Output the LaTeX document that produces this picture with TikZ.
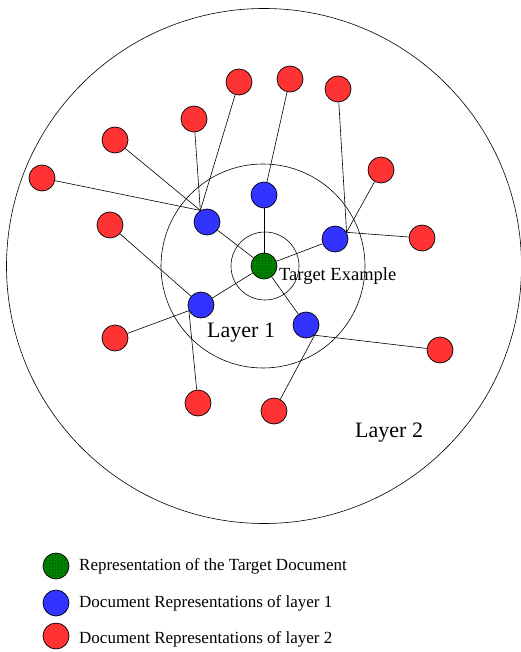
\documentclass[tikz,border=0pt]{standalone}
\usepackage{fontspec}
\setmainfont{Liberation Serif}
\usetikzlibrary{patterns}
\definecolor{bluen}{RGB}{51,51,255}
\definecolor{redn}{RGB}{255,51,51}
\definecolor{greenn}{RGB}{0,135,0}
\begin{document}
\begin{tikzpicture}[x=1pt,y=-1pt,
  doc/.style={circle,draw,line width=0.7pt,minimum size=26pt,inner sep=0pt},
  tgt/.style={doc,fill=greenn,postaction={pattern=crosshatch dots,pattern color=green!25!black}},
  lone/.style={doc,fill=bluen},
  ltwo/.style={doc,fill=redn},
  ring/.style={circle,draw,line width=0.6pt,inner sep=0pt},
  link/.style={line width=0.6pt},
  biglbl/.style={font=\fontsize{22}{26}\selectfont,anchor=base west,inner sep=0pt},
  tgtlbl/.style={font=\fontsize{18.5}{22}\selectfont,anchor=base west,inner sep=0pt},
  leglbl/.style={font=\fontsize{17}{20}\selectfont,anchor=base west,inner sep=0pt}]
\useasboundingbox (0,0) rectangle (521,652);
% layers
\node[ring,minimum size=515pt] (layertwo) at (264,266) {};
\node[ring,minimum size=204pt] (layerone) at (263,266) {};
\node[ring,minimum size=68pt] (inner) at (265,266) {};
% target and layer 1
\node[tgt] (g) at (264,266) {};
\node[lone] (bt) at (264,195) {};
\node[lone] (bul) at (207,222) {};
\node[lone] (br) at (335,239) {};
\node[lone] (bll) at (201,305) {};
\node[lone] (blr) at (306,325) {};
% layer 2
\node[ltwo] (r1) at (239,82) {};
\node[ltwo] (r2) at (290,79) {};
\node[ltwo] (r3) at (338,89) {};
\node[ltwo] (r4) at (194,119) {};
\node[ltwo] (r5) at (115,140) {};
\node[ltwo] (r6) at (42,178) {};
\node[ltwo] (r7) at (110,225) {};
\node[ltwo] (r8) at (381,170) {};
\node[ltwo] (r9) at (422,238) {};
\node[ltwo] (r10) at (115,338) {};
\node[ltwo] (r11) at (198,403) {};
\node[ltwo] (r12) at (274,411) {};
\node[ltwo] (r13) at (440,350) {};
% connectors
\foreach \b in {bt,bul,br,bll,blr} \draw[link] (g) -- (\b);
\foreach \r in {r1,r4,r5,r6} \draw[link] (bul.120) -- (\r);
\draw[link] (bt) -- (r2);
\foreach \r in {r3,r8,r9} \draw[link] (br.30) -- (\r);
\draw[link] (bll) -- (r7);
\foreach \r in {r10,r11} \draw[link] (bll.205) -- (\r);
\foreach \r in {r12,r13} \draw[link] (blr.310) -- (\r);
% labels
\node[tgtlbl] (tl) at (279,280) {Target Example};
\node[biglbl] (l1l) at (207,337) {Layer 1};
\node[biglbl] (l2l) at (355,437) {Layer 2};
% legend
\node[tgt] (lg) at (56,566) {};
\node[lone] (lb) at (56,603) {};
\node[ltwo] (lr) at (56,636) {};
\node[leglbl] (tg) at (79,570) {Representation of the Target Document};
\node[leglbl] (tb) at (79,607) {Document Representations of layer 1};
\node[leglbl] (tr) at (79,643) {Document Representations of layer 2};
\end{tikzpicture}
\end{document}
